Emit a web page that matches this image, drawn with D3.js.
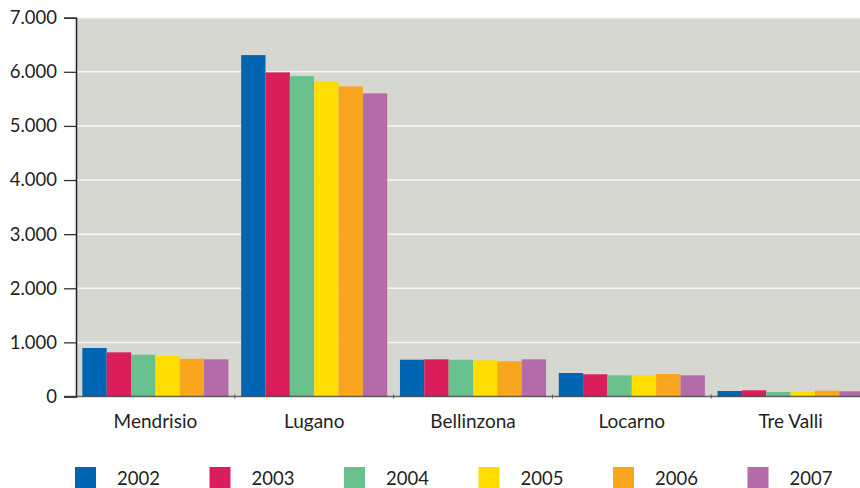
<!DOCTYPE html>
<html>
<head>
<meta charset="utf-8">
<script src="https://cdn.jsdelivr.net/npm/d3@7"></script>
<style>
  body { margin: 0; background: #fff; }
  svg { display: block; font-family: Lato, "DejaVu Sans", sans-serif; }
</style>
</head>
<body>
<div class="chart"></div>
<script>
const width = 860;
const height = 488;

// categories and series
const regions = ["Mendrisio", "Lugano", "Bellinzona", "Locarno", "Tre Valli"];
const years = ["2002", "2003", "2004", "2005", "2006", "2007"];
const v2002 = [896, 6309, 680, 434, 102];
const v2003 = [816, 5989, 687, 410, 114];
const v2004 = [772, 5921, 680, 391, 83];
const v2005 = [748, 5823, 669, 397, 83];
const v2006 = [698, 5731, 650, 416, 107];
const v2007 = [687, 5601, 687, 391, 96];
const yTicks = [0, 1000, 2000, 3000, 4000, 5000, 6000, 7000];
const colors = ["#0066b3", "#d91e5b", "#69c18e", "#ffdd00", "#f9a61e", "#b36ba9"];

const series = [v2002, v2003, v2004, v2005, v2006, v2007];

const plotLeft = 76, plotRight = 870, plotTop = 17.7, plotBottom = 396.5;

const fmt = d3.formatLocale({ decimal: ",", thousands: ".", grouping: [3], currency: ["", ""] }).format(",d");

const svg = d3.select(".chart")
  .append("svg")
  .attr("width", width)
  .attr("height", height);

const x0 = d3.scaleBand()
  .domain(regions)
  .range([plotLeft, plotRight])
  .paddingInner(0.08)
  .paddingOuter(0.04);

const x1 = d3.scaleBand()
  .domain(years)
  .range([0, x0.bandwidth()]);

const y = d3.scaleLinear()
  .domain([0, 7000])
  .range([plotBottom, plotTop]);

// plot background
svg.append("rect")
  .attr("x", plotLeft)
  .attr("y", plotTop)
  .attr("width", width - plotLeft)
  .attr("height", plotBottom - plotTop)
  .attr("fill", "#d7d7d2");

// gridlines
svg.append("g")
  .selectAll("line")
  .data(yTicks.filter(d => d > 0))
  .enter()
  .append("line")
  .attr("x1", plotLeft)
  .attr("x2", width)
  .attr("y1", d => y(d))
  .attr("y2", d => y(d))
  .attr("stroke", "#f4f4f2")
  .attr("stroke-width", 1.5);

// bars
const rows = regions.map((r, i) => ({ region: r, values: years.map((yr, j) => ({ year: yr, value: series[j][i], color: colors[j] })) }));

svg.append("g")
  .selectAll("g")
  .data(rows)
  .enter()
  .append("g")
  .attr("transform", d => `translate(${x0(d.region)},0)`)
  .selectAll("rect")
  .data(d => d.values)
  .enter()
  .append("rect")
  .attr("x", d => x1(d.year))
  .attr("y", d => y(d.value))
  .attr("width", x1.bandwidth())
  .attr("height", d => y(0) - y(d.value))
  .attr("fill", d => d.color);

// y axis
const yAxis = svg.append("g")
  .attr("transform", `translate(${plotLeft},0)`)
  .call(d3.axisLeft(y).tickValues(yTicks).tickFormat(fmt).tickSize(12).tickPadding(7));
yAxis.select(".domain").attr("stroke", "#231f20").attr("stroke-width", 1.5);
yAxis.selectAll(".tick line").attr("stroke", "#3a3330").attr("stroke-width", 1.3);
yAxis.selectAll(".tick text")
  .attr("fill", "#231f20")
  .attr("font-size", 18.5)
  .attr("font-family", "Lato, sans-serif");

// baseline and group separators
svg.append("line")
  .attr("x1", plotLeft - 12)
  .attr("x2", width)
  .attr("y1", y(0))
  .attr("y2", y(0))
  .attr("stroke", "#3a3a3a")
  .attr("stroke-opacity", 0.75)
  .attr("stroke-width", 1.6);

svg.append("g")
  .selectAll("line")
  .data(regions.slice(1))
  .enter()
  .append("line")
  .attr("x1", d => x0(d) - x0.step() * x0.paddingInner() / 2)
  .attr("x2", d => x0(d) - x0.step() * x0.paddingInner() / 2)
  .attr("y1", y(0) - 2)
  .attr("y2", y(0) + 2)
  .attr("stroke", "#555")
  .attr("stroke-width", 1);

// category labels
svg.append("g")
  .selectAll("text")
  .data(regions)
  .enter()
  .append("text")
  .attr("x", d => x0(d) + x0.bandwidth() / 2)
  .attr("y", 428)
  .attr("text-anchor", "middle")
  .attr("font-size", 19)
  .attr("fill", "#231f20")
  .text(d => d);

// legend
const legend = svg.append("g")
  .selectAll("g")
  .data(years)
  .enter()
  .append("g")
  .attr("transform", (d, i) => `translate(${75 + i * 134.5},467)`);

legend.append("rect")
  .attr("width", 21)
  .attr("height", 21)
  .attr("fill", (d, i) => colors[i]);

legend.append("text")
  .attr("x", 42)
  .attr("y", 18)
  .attr("font-size", 18.5)
  .attr("fill", "#231f20")
  .text(d => d);
</script>
</body>
</html>
